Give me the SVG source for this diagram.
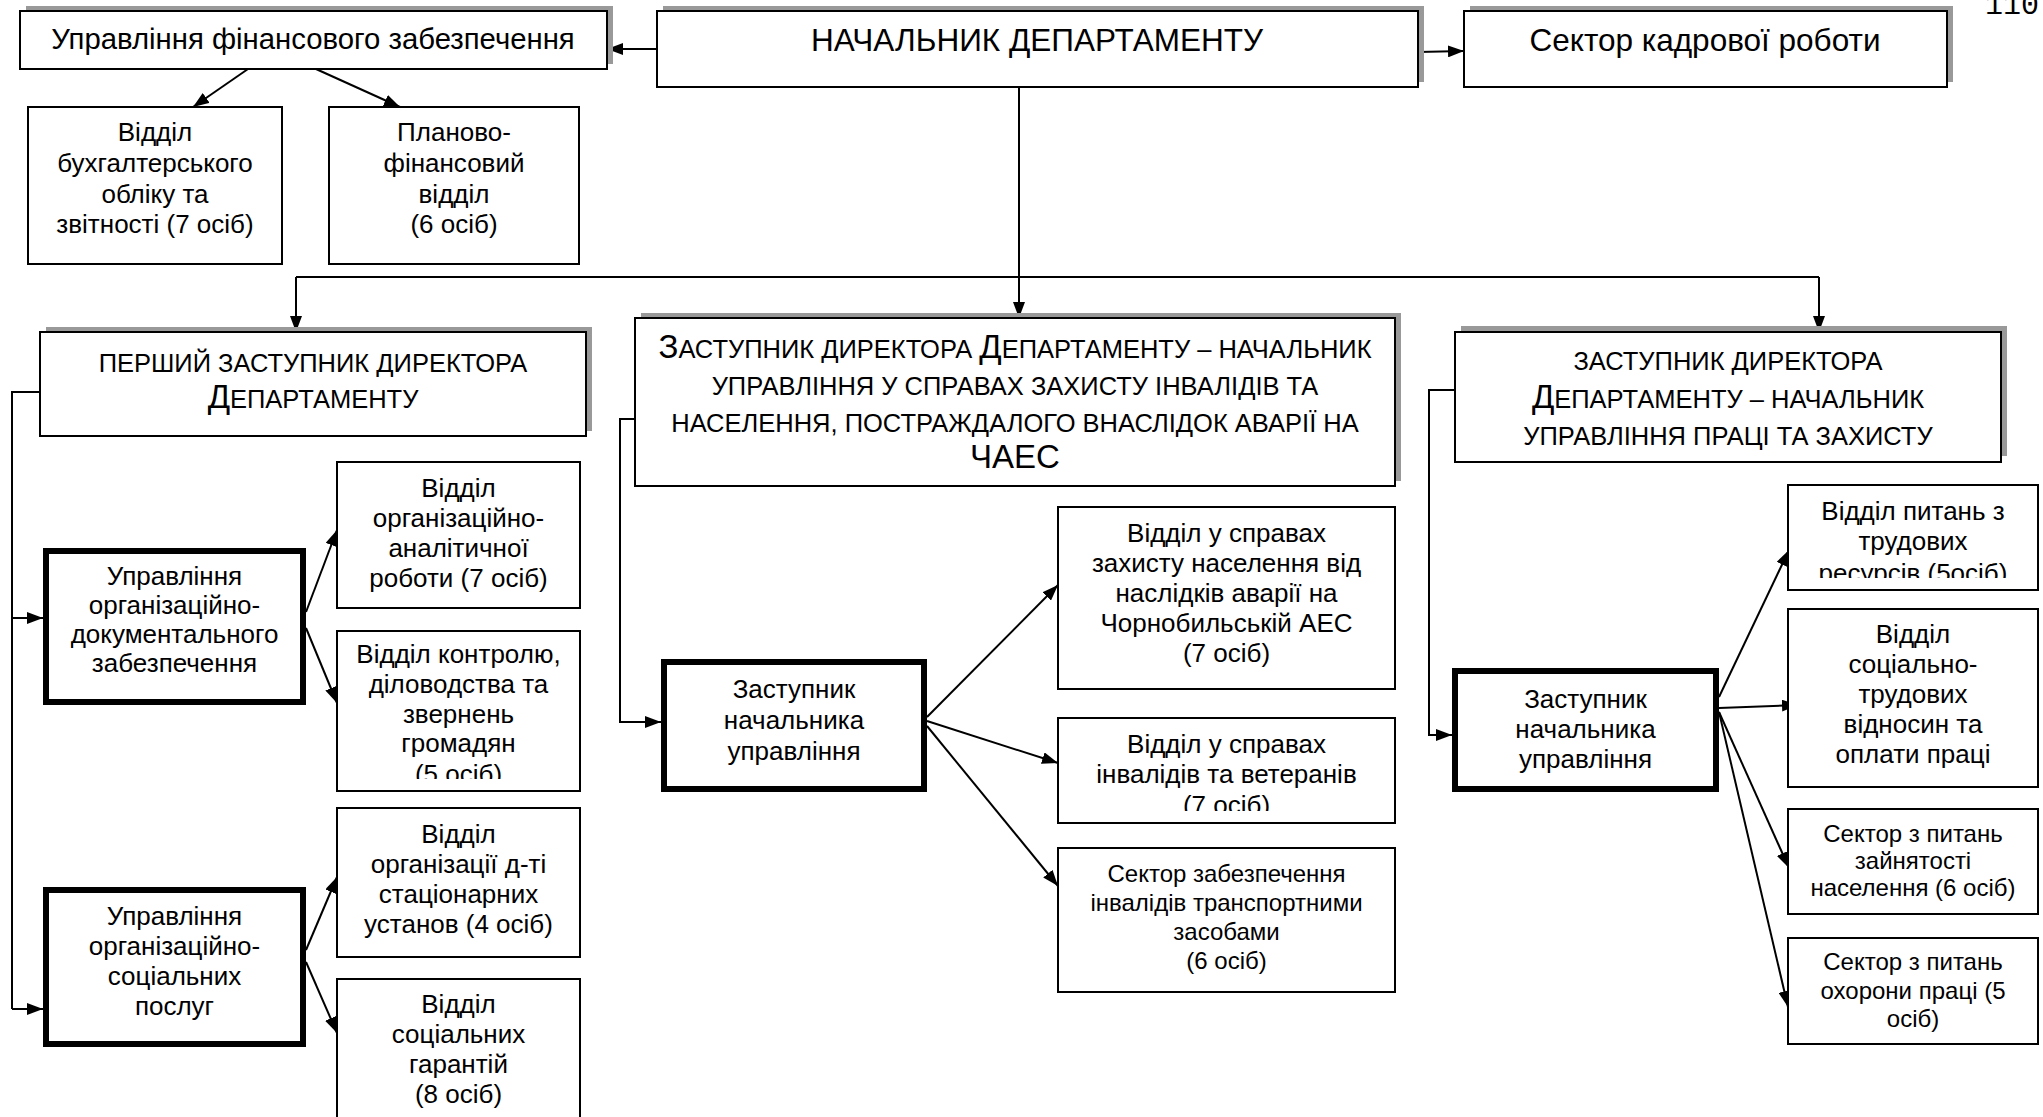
<svg xmlns="http://www.w3.org/2000/svg" width="2043" height="1117" viewBox="0 0 2043 1117">
<style>
.bg{fill:#fff}
.box{fill:#fff;stroke:#000;stroke-width:2}
.thick{fill:#fff;stroke:#000;stroke-width:6}
.sh{fill:#999}
.t{font-family:"Liberation Sans",Arial,sans-serif;font-size:26px;text-anchor:middle;fill:#000}
.ttl{font-size:31.5px}
.fin{font-size:29.3px}
.cap{font-size:25.5px}
.big{font-size:33px}
.sm{font-size:24px}
.conn{stroke:#000;stroke-width:2;fill:none}
.num{font-family:"Liberation Mono","Courier New",monospace;font-size:30px;fill:#000}
</style>
<defs>
<marker id="ah" markerUnits="userSpaceOnUse" markerWidth="16" markerHeight="12" refX="16" refY="6" orient="auto">
<path d="M0,0 L16,6 L0,12 z" fill="#000"/>
</marker>
<clipPath id="c1"><rect x="330" y="620" width="260" height="159"/></clipPath>
<clipPath id="c2"><rect x="1050" y="710" width="350" height="101"/></clipPath>
<clipPath id="c3"><rect x="1780" y="480" width="263" height="98"/></clipPath>
</defs>
<rect class="bg" x="0" y="0" width="2043" height="1117"/>
<text class="num" x="1985" y="14">110</text>

<g id="connectors">
<line class="conn" x1="657" y1="49" x2="607" y2="49" marker-end="url(#ah)"/>
<line class="conn" x1="1418" y1="52" x2="1464" y2="51" marker-end="url(#ah)"/>
<line class="conn" x1="248" y1="69" x2="193" y2="107" marker-end="url(#ah)"/>
<line class="conn" x1="316" y1="69" x2="400" y2="107" marker-end="url(#ah)"/>
<line class="conn" x1="1019" y1="87" x2="1019" y2="318" marker-end="url(#ah)"/>
<line class="conn" x1="296" y1="277" x2="1819" y2="277"/>
<line class="conn" x1="296" y1="277" x2="296" y2="332" marker-end="url(#ah)"/>
<line class="conn" x1="1819" y1="277" x2="1819" y2="332" marker-end="url(#ah)"/>
<path class="conn" d="M40,392 H12 V1009"/>
<line class="conn" x1="12" y1="618" x2="43" y2="618" marker-end="url(#ah)"/>
<line class="conn" x1="12" y1="1009" x2="43" y2="1009" marker-end="url(#ah)"/>
<line class="conn" x1="306" y1="612" x2="337" y2="530" marker-end="url(#ah)"/>
<line class="conn" x1="306" y1="628" x2="337" y2="703" marker-end="url(#ah)"/>
<line class="conn" x1="306" y1="950" x2="337" y2="877" marker-end="url(#ah)"/>
<line class="conn" x1="306" y1="962" x2="337" y2="1033" marker-end="url(#ah)"/>
<path class="conn" d="M635,419 H620 V722 H661" marker-end="url(#ah)"/>
<line class="conn" x1="927" y1="717" x2="1058" y2="585" marker-end="url(#ah)"/>
<line class="conn" x1="927" y1="721" x2="1058" y2="763" marker-end="url(#ah)"/>
<line class="conn" x1="927" y1="726" x2="1058" y2="886" marker-end="url(#ah)"/>
<path class="conn" d="M1455,390 H1429 V735 H1452" marker-end="url(#ah)"/>
<line class="conn" x1="1719" y1="697" x2="1789" y2="550" marker-end="url(#ah)"/>
<line class="conn" x1="1719" y1="708" x2="1798" y2="705" marker-end="url(#ah)"/>
<line class="conn" x1="1719" y1="712" x2="1789" y2="868" marker-end="url(#ah)"/>
<line class="conn" x1="1719" y1="712" x2="1788" y2="1007" marker-end="url(#ah)"/>
</g>

<g id="fin">
<rect class="sh" x="26" y="6" width="587" height="58"/>
<rect class="box" x="20" y="11" width="587" height="58"/>
<text class="t fin" x="313" y="49">Управління фінансового забезпечення</text>
</g>
<g id="head">
<rect class="sh" x="663" y="6" width="761" height="76"/>
<rect class="box" x="657" y="11" width="761" height="76"/>
<text class="t ttl" x="1037" y="51">НАЧАЛЬНИК ДЕПАРТАМЕНТУ</text>
</g>
<g id="hr">
<rect class="sh" x="1470" y="6" width="483" height="76"/>
<rect class="box" x="1464" y="11" width="483" height="76"/>
<text class="t ttl" x="1705" y="51">Сектор кадрової роботи</text>
</g>
<g id="buh">
<rect class="box" x="28" y="107" width="254" height="157"/>
<text class="t" x="155" y="141">Відділ</text>
<text class="t" x="155" y="172">бухгалтерського</text>
<text class="t" x="155" y="203">обліку та</text>
<text class="t" x="155" y="233">звітності (7 осіб)</text>
</g>
<g id="plan">
<rect class="box" x="329" y="107" width="250" height="157"/>
<text class="t" x="454" y="141">Планово-</text>
<text class="t" x="454" y="172">фінансовий</text>
<text class="t" x="454" y="203">відділ</text>
<text class="t" x="454" y="233">(6 осіб)</text>
</g>

<g id="dep1">
<rect class="sh" x="46" y="327" width="546" height="104"/>
<rect class="box" x="40" y="332" width="546" height="104"/>
<text class="t cap" x="313" y="372">ПЕРШИЙ ЗАСТУПНИК ДИРЕКТОРА</text>
<text class="t cap" x="313" y="408"><tspan class="big">Д</tspan>ЕПАРТАМЕНТУ</text>
</g>
<g id="orgdoc">
<rect class="thick" x="46" y="551" width="257" height="151"/>
<text class="t" x="174.5" y="585">Управління</text>
<text class="t" x="174.5" y="614">організаційно-</text>
<text class="t" x="174.5" y="643">документального</text>
<text class="t" x="174.5" y="672">забезпечення</text>
</g>
<g id="analit">
<rect class="box" x="337" y="462" width="243" height="146"/>
<text class="t" x="458.5" y="497">Відділ</text>
<text class="t" x="458.5" y="527">організаційно-</text>
<text class="t" x="458.5" y="557">аналітичної</text>
<text class="t" x="458.5" y="587">роботи (7 осіб)</text>
</g>
<g id="kontrol">
<rect class="box" x="337" y="631" width="243" height="160"/>
<g clip-path="url(#c1)">
<text class="t" x="458.5" y="663">Відділ контролю,</text>
<text class="t" x="458.5" y="693">діловодства та</text>
<text class="t" x="458.5" y="723">звернень</text>
<text class="t" x="458.5" y="752">громадян</text>
<text class="t" x="458.5" y="783">(5 осіб)</text>
</g>
</g>
<g id="orgsoc">
<rect class="thick" x="46" y="890" width="257" height="154"/>
<text class="t" x="174.5" y="925">Управління</text>
<text class="t" x="174.5" y="955">організаційно-</text>
<text class="t" x="174.5" y="985">соціальних</text>
<text class="t" x="174.5" y="1015">послуг</text>
</g>
<g id="stac">
<rect class="box" x="337" y="808" width="243" height="149"/>
<text class="t" x="458.5" y="843">Відділ</text>
<text class="t" x="458.5" y="873">організації д-ті</text>
<text class="t" x="458.5" y="903">стаціонарних</text>
<text class="t" x="458.5" y="933">установ (4 осіб)</text>
</g>
<g id="garant">
<rect class="box" x="337" y="979" width="243" height="160"/>
<text class="t" x="458.5" y="1013">Відділ</text>
<text class="t" x="458.5" y="1043">соціальних</text>
<text class="t" x="458.5" y="1073">гарантій</text>
<text class="t" x="458.5" y="1103">(8 осіб)</text>
</g>

<g id="dep2">
<rect class="sh" x="641" y="313" width="760" height="168"/>
<rect class="box" x="635" y="318" width="760" height="168"/>
<text class="t cap" x="1015" y="358"><tspan class="big">З</tspan>АСТУПНИК ДИРЕКТОРА <tspan class="big">Д</tspan>ЕПАРТАМЕНТУ – НАЧАЛЬНИК</text>
<text class="t cap" x="1015" y="395">УПРАВЛІННЯ У СПРАВАХ ЗАХИСТУ ІНВАЛІДІВ ТА</text>
<text class="t cap" x="1015" y="432">НАСЕЛЕННЯ, ПОСТРАЖДАЛОГО ВНАСЛІДОК АВАРІЇ НА</text>
<text class="t big" x="1015" y="468">ЧАЕС</text>
</g>
<g id="zast2">
<rect class="thick" x="664" y="662" width="260" height="127"/>
<text class="t" x="794" y="698">Заступник</text>
<text class="t" x="794" y="729">начальника</text>
<text class="t" x="794" y="760">управління</text>
</g>
<g id="chaes">
<rect class="box" x="1058" y="507" width="337" height="182"/>
<text class="t" x="1226.5" y="542">Відділ у справах</text>
<text class="t" x="1226.5" y="572">захисту населення від</text>
<text class="t" x="1226.5" y="602">наслідків аварії на</text>
<text class="t" x="1226.5" y="632">Чорнобильській АЕС</text>
<text class="t" x="1226.5" y="662">(7 осіб)</text>
</g>
<g id="veter">
<rect class="box" x="1058" y="718" width="337" height="105"/>
<g clip-path="url(#c2)">
<text class="t" x="1226.5" y="753">Відділ у справах</text>
<text class="t" x="1226.5" y="783">інвалідів та ветеранів</text>
<text class="t" x="1226.5" y="814">(7 осіб)</text>
</g>
</g>
<g id="transp">
<rect class="box" x="1058" y="848" width="337" height="144"/>
<text class="t sm" x="1226.5" y="882">Сектор забезпечення</text>
<text class="t sm" x="1226.5" y="911">інвалідів транспортними</text>
<text class="t sm" x="1226.5" y="940">засобами</text>
<text class="t sm" x="1226.5" y="969">(6 осіб)</text>
</g>

<g id="dep3">
<rect class="sh" x="1461" y="326" width="546" height="130"/>
<rect class="box" x="1455" y="332" width="546" height="130"/>
<text class="t cap" x="1728" y="370">ЗАСТУПНИК ДИРЕКТОРА</text>
<text class="t cap" x="1728" y="408"><tspan class="big">Д</tspan>ЕПАРТАМЕНТУ – НАЧАЛЬНИК</text>
<text class="t cap" x="1728" y="445">УПРАВЛІННЯ ПРАЦІ ТА ЗАХИСТУ</text>
</g>
<g id="zast3">
<rect class="thick" x="1455" y="671" width="261" height="118"/>
<text class="t" x="1585.5" y="708">Заступник</text>
<text class="t" x="1585.5" y="738">начальника</text>
<text class="t" x="1585.5" y="768">управління</text>
</g>
<g id="trud">
<rect class="box" x="1788" y="485" width="250" height="105"/>
<g clip-path="url(#c3)">
<text class="t" x="1913" y="520">Відділ питань з</text>
<text class="t" x="1913" y="550">трудових</text>
<text class="t" x="1913" y="582">ресурсів (5осіб)</text>
</g>
</g>
<g id="soctrud">
<rect class="box" x="1788" y="609" width="250" height="178"/>
<text class="t" x="1913" y="643">Відділ</text>
<text class="t" x="1913" y="673">соціально-</text>
<text class="t" x="1913" y="703">трудових</text>
<text class="t" x="1913" y="733">відносин та</text>
<text class="t" x="1913" y="763">оплати праці</text>
</g>
<g id="zain">
<rect class="box" x="1788" y="809" width="250" height="105"/>
<text class="t sm" x="1913" y="842">Сектор з питань</text>
<text class="t sm" x="1913" y="869">зайнятості</text>
<text class="t sm" x="1913" y="896">населення (6 осіб)</text>
</g>
<g id="ohor">
<rect class="box" x="1788" y="938" width="250" height="106"/>
<text class="t sm" x="1913" y="970">Сектор з питань</text>
<text class="t sm" x="1913" y="999">охорони праці (5</text>
<text class="t sm" x="1913" y="1027">осіб)</text>
</g>
</svg>
